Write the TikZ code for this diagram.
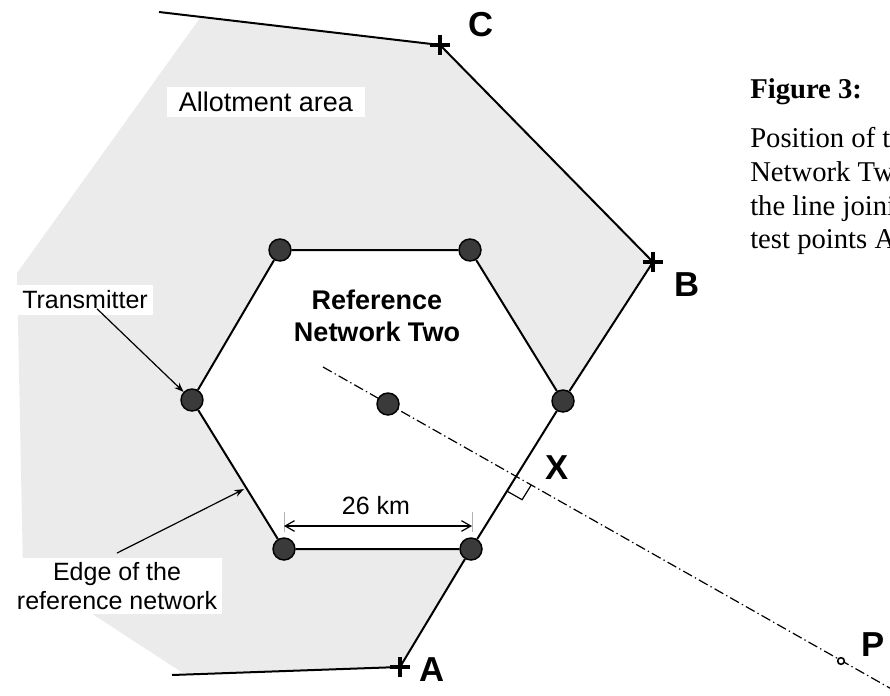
\documentclass[tikz,border=0pt]{standalone}
\usepackage{fontspec}
\setmainfont{Liberation Serif}
\setsansfont{Liberation Sans}
\usetikzlibrary{calc,arrows.meta,positioning}
\definecolor{AreaGrey}{RGB}{235,235,235}
\definecolor{TxGrey}{RGB}{58,58,58}
\tikzset{testcross/.pic={\draw[line width=3pt] (-10,0) -- (10,0) (0,-10) -- (0,10);}}

\begin{document}
\begin{tikzpicture}[x=0.75pt,y=-0.75pt,>=Stealth,
    tx/.style={circle,draw=black,line width=1.1pt,fill=TxGrey,minimum size=16.5pt,inner sep=0pt},
    edgeline/.style={line width=1.5pt},
    callout/.style={->,line width=0.9pt},
    lab/.style={font=\sffamily\fontsize{18.75}{21.75}\selectfont,fill=white,inner xsep=4pt,inner ysep=4pt},
    letter/.style={font=\sffamily\bfseries\fontsize{26}{30}\selectfont,inner sep=0pt},
    capline/.style={anchor=base west,font=\fontsize{21.5}{25}\selectfont,inner sep=0pt}]
      \useasboundingbox (0,0) rectangle (890,696);
      \clip (0,0) rectangle (890,696);
      % transmitter sites and test points
      \coordinate (pTL) at (280,250);
      \coordinate (pTR) at (470,250);
      \coordinate (pL) at (192,400);
      \coordinate (pR) at (563,401);
      \coordinate (pBL) at (284,549);
      \coordinate (pBR) at (471,549);
      \coordinate (pC) at (388,404);
      \coordinate (C) at (440,45);
      \coordinate (B) at (653,262);
      \coordinate (A) at (400,667);
      \coordinate (topEnd) at (159,12);
      \coordinate (botEnd) at (172,675);
      \coordinate (dStart) at (323,367);
      \coordinate (dEnd) at (895,691);
      % allotment area
      \fill[AreaGrey] (200,18) -- (C) -- (B) -- (pR) -- (pBR) -- (A) -- (183,673) -- (23,569) -- (17,273) -- cycle;
      \fill[white] (pTL) -- (pTR) -- (pR) -- (pBR) -- (pBL) -- (pL) -- cycle;
      % line through the centre
      \draw[line width=0.9pt,dash pattern=on 7.5pt off 2.5pt on 1pt off 2.5pt] (dStart) -- (dEnd);
      \coordinate (X) at (intersection of dStart--dEnd and pR--pBR);
      \coordinate (u1) at ($(X)!13pt!(pBR)$);
      \coordinate (u2) at ($(X)!13pt!(dEnd)$);
      \draw[line width=0.9pt] (u1) -- ($(u1)+(u2)-(X)$) -- (u2);
      \node[circle,draw=black,fill=white,line width=1.2pt,minimum size=5pt,inner sep=0pt] (P) at (841,661) {};
      % transmitters
      \node[tx] (tTL) at (pTL) {};
      \node[tx] (tTR) at (pTR) {};
      \node[tx] (tL) at (pL) {};
      \node[tx] (tR) at (pR) {};
      \node[tx] (tBL) at (pBL) {};
      \node[tx] (tBR) at (pBR) {};
      \node[tx] (tC) at (pC) {};
      \draw[edgeline] (tTL) -- (tTR) -- (tR) -- (tBR) -- (tBL) -- (tL) -- (tTL);
      \draw[edgeline] (topEnd) -- (C) -- (B) -- (tR);
      \draw[edgeline] (tBR) -- (A) -- (botEnd);
      \pic at (A) {testcross};
      \pic at (B) {testcross};
      \pic at (C) {testcross};
      % labels
      \node[lab,font=\sffamily\fontsize{20.25}{24}\selectfont,inner xsep=9pt] (allot) at (266,102) {Allotment area};
      \node[lab] (trlab) at (85,300) {Transmitter};
      \node[lab,align=center,inner ysep=3pt] (edgelab) at (117,586) {Edge of the\\reference network};
      \node[font=\sffamily\bfseries\fontsize{20.25}{24}\selectfont,align=center] (refnet) at (377,316) {Reference\\Network Two};
      \node[lab,fill=none,inner sep=0pt] (dimlab) at (376,506) {26 km};
      \draw[callout] ($(trlab.south)+(12,-6)$) -- (tL);
      \draw[callout,shorten >=2pt] ($(edgelab.north)+(0,-5)$) -- ($(pL)!0.59!(pBL)$);
      % 26 km dimension
      \coordinate (dimL) at (284,526);
      \coordinate (dimR) at (472,526);
      \draw[gray!60,line width=0.5pt] ($(dimL)+(0,-14)$) -- ($(dimL)+(0,6)$);
      \draw[gray!60,line width=0.5pt] ($(dimR)+(0,-14)$) -- ($(dimR)+(0,6)$);
      \draw[{Straight Barb[length=7pt,width=8pt]}-{Straight Barb[length=7pt,width=8pt]},line width=0.9pt] (dimL) -- (dimR);
      \node[letter] (labC) at (481,25) {C};
      \node[letter] (labB) at (687,285) {B};
      \node[letter] (labA) at (432,670) {A};
      \node[letter] (labX) at (557,468) {X};
      \node[letter] (labP) at (873,645) {P};
      % caption
      \node[capline,font=\bfseries\fontsize{21.5}{25}\selectfont] (figno) at (750,98) {Figure 3:};
      \node[capline] (cap1) at (750,147) {Position of the};
      \node[capline] (cap2) at (750,181) {Network Two};
      \node[capline] (cap3) at (750,215) {the line joining};
      \node[capline] (cap4) at (750,248) {test points A};
    \end{tikzpicture}
\end{document}
